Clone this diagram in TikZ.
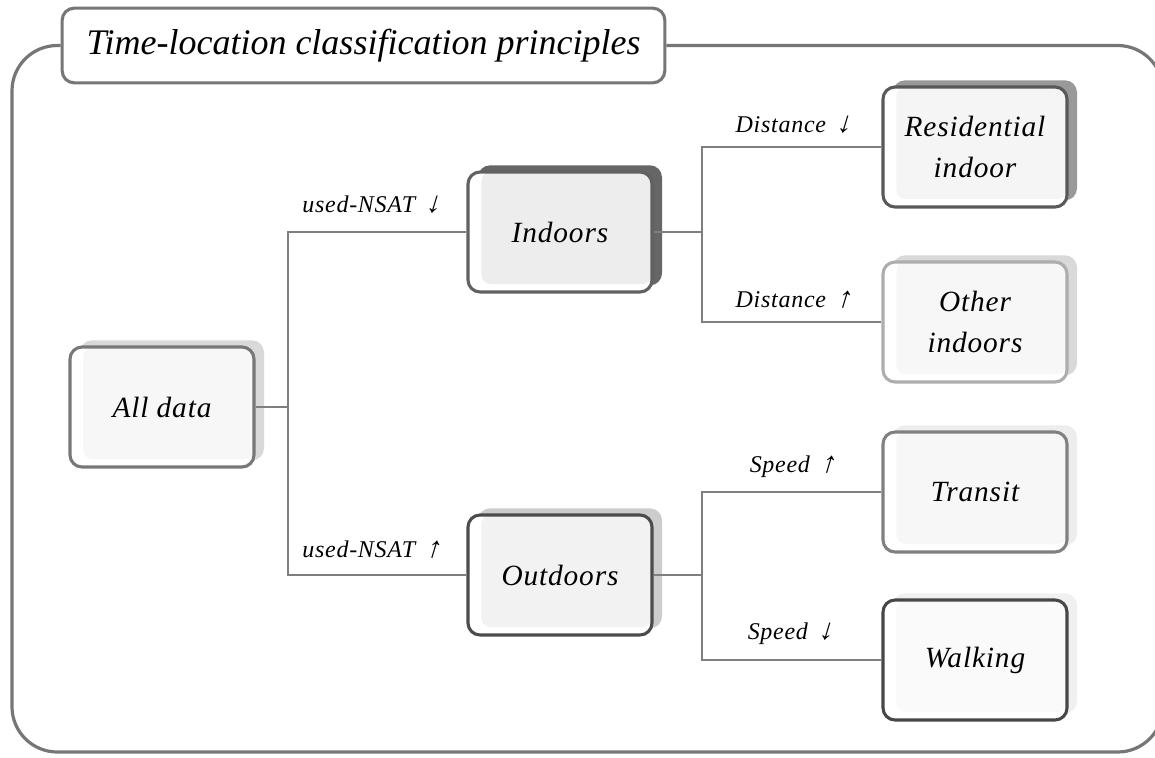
\documentclass[tikz,border=0pt]{standalone}
\usepackage{fontspec}
\setmainfont{Liberation Serif}
\newfontfamily\arrowfont[FakeSlant=0.3]{Liberation Serif}
\newcommand\myarr[1]{\hspace{0.4em}{\arrowfont\fontsize{22}{22}\selectfont #1}}
\usetikzlibrary{shadows,calc}
\definecolor{framec}{HTML}{767676}
\definecolor{connc}{HTML}{7F7F7F}
\begin{document}
\begin{tikzpicture}[x=0.75pt,y=-0.75pt,
  conn/.style={draw=connc,line width=2pt},
  framel/.style={draw=framec,line width=2.4pt},
  bx/.style={rounded corners=9pt,minimum width=138pt,minimum height=90pt,
    line width=2.3pt,fill=white,align=center,inner sep=2pt,
    font=\fontsize{22}{31}\selectfont\itshape\addfontfeatures{LetterSpace=3}},
  sh/.style={general shadow={fill=#1,shadow xshift=7.5pt,shadow yshift=5pt}},
  inner/.style={path picture={\fill[#1,rounded corners=7pt]
     ([xshift=10pt,yshift=6pt]path picture bounding box.south west)
     rectangle (path picture bounding box.north east);}},
  lbl/.style={inner sep=1pt,font=\fontsize{18}{20}\selectfont\itshape\addfontfeatures{LetterSpace=3}},
  titlebox/.style={draw=framec,line width=2.3pt,fill=white,rounded corners=9pt,
    minimum width=452pt,minimum height=56pt,font=\fontsize{27}{30}\selectfont\itshape}]
\clip (0,0) rectangle (1155,757);
% title and frame
\node[titlebox] (title) at (363.5,45.5) {Time-location classification principles};
\draw[framel,rounded corners=34pt] (title.east) -- (1163,45.5) -- (1163,752) -- (12,752) -- (12,45.5) -- (title.west);
% boxes
\node[bx,draw=black!53,sh={black!15},inner={black!3}] (all) at (162,407) {All data};
\node[bx,draw=black!62,sh={black!60},inner={black!7}] (ind) at (560,232) {Indoors};
\node[bx,draw=black!70,sh={black!20},inner={black!5}] (out) at (560,575) {Outdoors};
\node[bx,draw=black!65,sh={black!40},inner={black!4}] (res) at (975,147) {Residential\\indoor};
\node[bx,draw=black!32,sh={black!15},inner={black!3}] (oth) at (975,322) {Other\\indoors};
\node[bx,draw=black!50,sh={black!7},inner={black!3}] (tra) at (975,492) {Transit};
\node[bx,draw=black!72,sh={black!6},inner={black!2}] (wal) at (975,660) {Walking};
% junctions
\coordinate (j1) at (288,407);
\coordinate (j2) at (702,232);
\coordinate (j3) at (702,575);
% connectors
\draw[conn] (all.east) -- (j1);
\draw[conn] (ind.west) -| (j1) |- (out.west);
\draw[conn] (ind.east) -- (j2);
\draw[conn] (res.west) -| (j2) |- (oth.west);
\draw[conn] (out.east) -- (j3);
\draw[conn] (tra.west) -| (j3) |- (wal.west);
% labels
\node[lbl] (l1) at (371,205) {used-NSAT\myarr{↓}};
\node[lbl] (l2) at (371,550) {used-NSAT\myarr{↑}};
\node[lbl] (l3) at (793,125) {Distance\myarr{↓}};
\node[lbl] (l4) at (793,300) {Distance\myarr{↑}};
\node[lbl] (l5) at (792,467) {Speed\myarr{↑}};
\node[lbl] (l6) at (790,634) {Speed\myarr{↓}};
\end{tikzpicture}
\end{document}
